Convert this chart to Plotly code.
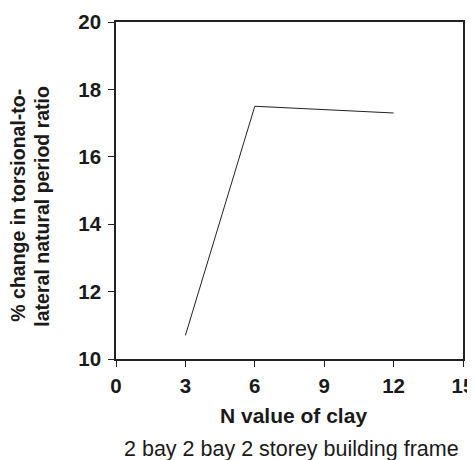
import plotly.graph_objects as go

n_values = [3, 6, 12]
pct_change = [10.7, 17.5, 17.3]
x_ticks = [0, 3, 6, 9, 12, 15]
y_ticks = [10, 12, 14, 16, 18, 20]
y_title_lines = ["% change in torsional-to-", "lateral natural period ratio"]
x_title = "N value of clay"
subtitle = "2 bay 2 bay 2 storey building frame"

FAM = "Liberation Sans, Arial, sans-serif"
COL = "#1a1a1a"

fig = go.Figure()
fig.add_trace(go.Scatter(x=n_values, y=pct_change, mode="lines",
                         line=dict(color="#222222", width=1), showlegend=False))

tickfont = dict(family=FAM, size=20.5, color=COL)

fig.update_layout(
    width=467, height=452,
    margin=dict(l=108, r=12, t=14, b=101, autoexpand=False),
    plot_bgcolor="white", paper_bgcolor="white",
    font=dict(family=FAM, size=20, color=COL),
    xaxis=dict(range=[0, 15], tickvals=x_ticks, ticktext=[f"<b>{v}</b>" for v in x_ticks],
               ticks="outside", ticklen=6, ticklabelstandoff=2,
               tickwidth=1.2, tickcolor="#222", showline=True, linecolor="#222",
               linewidth=1.5, mirror=True, showgrid=False, zeroline=False,
               tickfont=tickfont, automargin=False),
    yaxis=dict(range=[10, 20], tickvals=y_ticks, ticktext=[f"<b>{v}</b>" for v in y_ticks],
               ticks="outside", ticklen=6, ticklabelstandoff=3,
               tickwidth=1.2, tickcolor="#222", showline=True, linecolor="#222",
               linewidth=1.5, mirror=True, showgrid=False, zeroline=False,
               tickfont=tickfont, automargin=False),
)

for xpos, line in zip([-0.2824, -0.2133], y_title_lines):
    fig.add_annotation(text=f"<b>{line}</b>",
                       xref="paper", yref="paper", x=xpos, y=0.455, xanchor="center", yanchor="middle",
                       textangle=-90, showarrow=False,
                       font=dict(family=FAM, size=19.5, color=COL))
fig.add_annotation(text=f"<b>{x_title}</b>",
                   xref="paper", yref="paper", x=0.512, y=-0.168, xanchor="center", yanchor="middle",
                   showarrow=False, font=dict(family=FAM, size=21, color=COL))
fig.add_annotation(text=subtitle,
                   xref="paper", yref="paper", x=0.506, y=-0.268, xanchor="center", yanchor="middle",
                   showarrow=False, font=dict(family=FAM, size=21.5, color=COL))

fig.write_html("out.html")
